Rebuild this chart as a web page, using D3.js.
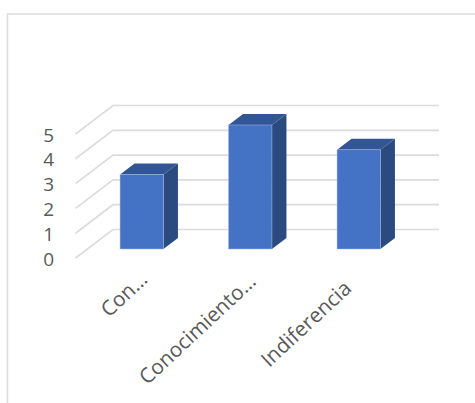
<!DOCTYPE html>
<html>
<head>
<meta charset="utf-8">
<script src="https://cdn.jsdelivr.net/npm/d3@7/dist/d3.min.js"></script>
<style>
html,body{margin:0;padding:0;background:#fff;overflow:hidden}
svg{display:block}
</style>
</head>
<body>
<script>
const categories = ["Con…", "Conocimiento…", "Indiferencia"];
const seriesValues = [3, 5, 4];
const yTicks = [0, 1, 2, 3, 4, 5];

const W = 475, H = 403;
const svg = d3.select("body").append("svg").attr("width", W).attr("height", H);
const FONT = "'Open Sans', sans-serif";

// chart frame
svg.append("path")
  .attr("d", `M7.5,${H} V14 H${W}`)
  .attr("fill", "none").attr("stroke", "#dcdcdc").attr("stroke-width", 1.5);

const x = d3.scaleBand().domain(categories).range([87.5, 413]).paddingInner(0.6).paddingOuter(0.3);
const y = d3.scaleLinear().domain([0, 5]).range([258, 134]);

const wall = { dx: 37.5, dy: 28.5, right: 439, left: 75.5 };
const floorOffset = 9;
const depth = { dx: 14.5, dy: 11 };

// gridlines: floor/side diagonal then back wall
svg.append("g").selectAll("path").data(yTicks).join("path")
  .attr("d", d => `M${wall.left},${y(d)} L${wall.left + wall.dx},${y(d) - wall.dy} H${wall.right}`)
  .attr("fill", "none").attr("stroke", "#dcdcdc").attr("stroke-width", 1.7);

// bars
const bars = svg.append("g").selectAll("g").data(categories.map((c, i) => ({ c, v: seriesValues[i] }))).join("g");
const base = y(0) - floorOffset;
const top_ = d => y(d.v) - floorOffset;
bars.append("path") // side
  .attr("d", d => {
    const r = x(d.c) + x.bandwidth();
    return `M${r},${top_(d)} l${depth.dx},${-depth.dy} V${base - depth.dy} L${r},${base} Z`;
  })
  .attr("fill", "#2b4a80");
bars.append("path") // top
  .attr("d", d => {
    const l = x(d.c), r = l + x.bandwidth(), t = top_(d);
    return `M${l},${t} l${depth.dx},${-depth.dy} H${r + depth.dx} L${r},${t} Z`;
  })
  .attr("fill", "#325596");
bars.append("rect") // front
  .attr("x", d => x(d.c)).attr("y", top_)
  .attr("width", x.bandwidth()).attr("height", d => base - top_(d))
  .attr("fill", "#4472c4").attr("stroke", "#a3b9e3").attr("stroke-width", 0.5);

// y axis labels
const yAxis = svg.append("g").attr("transform", "translate(54,1)")
  .call(d3.axisLeft(y).tickValues(yTicks).tickSize(0).tickPadding(0).tickFormat(d3.format("d")));
yAxis.select(".domain").remove();
yAxis.selectAll("text").attr("font-family", FONT).attr("font-size", 19).attr("fill", "#595959");

// x axis labels (end of each rotated label relative to its band centre)
const labelDx = [7, 7, -6];
const labelDy = [19, 21, 28];
const xAxis = svg.append("g").attr("transform", "translate(0,262)")
  .call(d3.axisBottom(x).tickSize(0).tickPadding(0));
xAxis.select(".domain").remove();
xAxis.selectAll("text")
  .attr("font-family", FONT).attr("font-size", 20.7).attr("fill", "#595959")
  .attr("text-anchor", "end")
  .attr("dy", 0)
  .attr("y", 0)
  .attr("transform", (d, i) => `translate(${labelDx[i]},${labelDy[i]}) rotate(-43)`);
</script>
</body>
</html>
